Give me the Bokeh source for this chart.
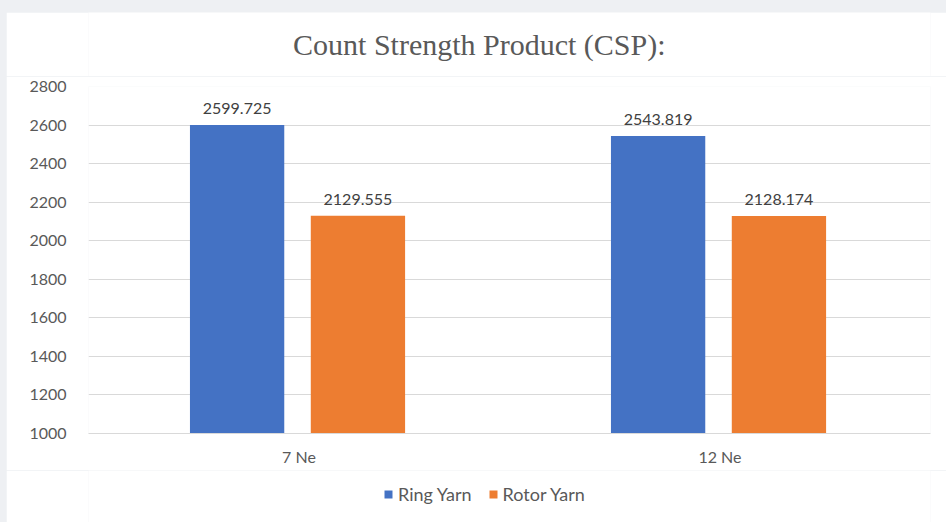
from bokeh.plotting import figure
from bokeh.layouts import column
from bokeh.models import ColumnDataSource, FactorRange, Range1d, Legend, LegendItem, LabelSet, Label
from bokeh.core.properties import value
from bokeh.transform import dodge
from bokeh.embed import file_html
from bokeh.resources import INLINE

title_text = "Count Strength Product (CSP):"
categories = ["7 Ne", "12 Ne"]
ring_yarn = [2599.725, 2543.819]
rotor_yarn = [2129.555, 2128.174]
y_ticks = [1000, 1200, 1400, 1600, 1800, 2000, 2200, 2400, 2600, 2800]
series_names = ["Ring Yarn", "Rotor Yarn"]
series_colors = ["#4472C4", "#ED7D31"]

source = ColumnDataSource(data=dict(
    cat=categories,
    ring=ring_yarn,
    rotor=rotor_yarn,
    ring_lbl=["%.3f" % v for v in ring_yarn],
    rotor_lbl=["%.3f" % v for v in rotor_yarn],
))


def strip(h):
    f = figure(width=940, height=h, output_backend="svg", toolbar_location=None,
               x_range=Range1d(0, 1), y_range=Range1d(0, 1),
               min_border_left=82, min_border_right=16, min_border_top=0, min_border_bottom=0,
               outline_line_color=None, background_fill_color="white", border_fill_color="white")
    f.axis.visible = False
    f.grid.visible = False
    return f


# title strip
tfig = strip(64)
tfig.add_layout(Label(x=0.457, y=0.328, x_offset=6, y_offset=11, text=title_text,
                      text_align="center", text_baseline="alphabetic",
                      text_font="Liberation Serif", text_font_size="30px", text_color="#595959"))

# main chart
p = figure(
    x_range=FactorRange(*categories, range_padding=0),
    y_range=Range1d(y_ticks[0], y_ticks[-1]),
    width=940, height=394,
    output_backend="svg", toolbar_location=None,
    min_border_left=82, min_border_right=16, min_border_top=10, min_border_bottom=37,
    background_fill_color="white", border_fill_color="white",
    outline_line_color=None,
)

r1 = p.vbar(x=dodge("cat", -0.147, range=p.x_range), top="ring", bottom=y_ticks[0], width=0.224,
            source=source, fill_color=series_colors[0], line_color=None)
r2 = p.vbar(x=dodge("cat", 0.14, range=p.x_range), top="rotor", bottom=y_ticks[0], width=0.224,
            source=source, fill_color=series_colors[1], line_color=None)

for xoff, col in [(-0.147, "ring"), (0.14, "rotor")]:
    p.add_layout(LabelSet(x=dodge("cat", xoff, range=p.x_range), y=col, text=col + "_lbl",
                          source=source, text_align="center", text_baseline="bottom",
                          y_offset=11, text_font=value("Lato"), text_font_size="16px",
                          text_color="#404040"))

p.yaxis.ticker = y_ticks
p.yaxis.axis_line_color = None
p.yaxis.major_tick_line_color = None
p.yaxis.minor_tick_line_color = None
p.yaxis.major_label_standoff = 16
p.yaxis.major_label_text_font = "Lato"
p.yaxis.major_label_text_font_size = "16px"
p.yaxis.major_label_text_color = "#595959"

p.xaxis.axis_line_color = "#d9d9d9"
p.xaxis.major_tick_line_color = None
p.xaxis.minor_tick_line_color = None
p.xaxis.major_tick_out = 0
p.xaxis.major_tick_in = 0
p.xaxis.minor_tick_out = 0
p.xaxis.axis_label_standoff = 0
p.xaxis.major_label_standoff = 13
p.xaxis.major_label_text_font = "Lato"
p.xaxis.major_label_text_font_size = "16px"
p.xaxis.major_label_text_color = "#595959"

p.xgrid.grid_line_color = None
p.ygrid.grid_line_color = "#d9d9d9"

# legend strip below the chart
leg = strip(52)
lr = [leg.vbar(x="ring", top="ring", width=0.1, source=source, fill_color=c, line_color=None,
               visible=False)
      for c in series_colors]
legend = Legend(
    items=[LegendItem(label=n, renderers=[r]) for n, r in zip(series_names, lr)],
    orientation="horizontal", location=(295, 17),
    glyph_width=10, glyph_height=10, spacing=16, label_standoff=5,
    padding=0, margin=0, border_line_color=None, background_fill_alpha=0,
    label_text_font="Lato", label_text_font_size="18px", label_text_color="#595959",
)
leg.add_layout(legend, "center")

layout = column(tfig, p, leg, spacing=0, margin=(12, 0, 0, 6))

html = file_html(layout, INLINE)
html = html.replace("<head>", "<head><style>html,body{margin:0;padding:0;background:#eef0f3;}</style>", 1)
open("out.html", "w").write(html)
